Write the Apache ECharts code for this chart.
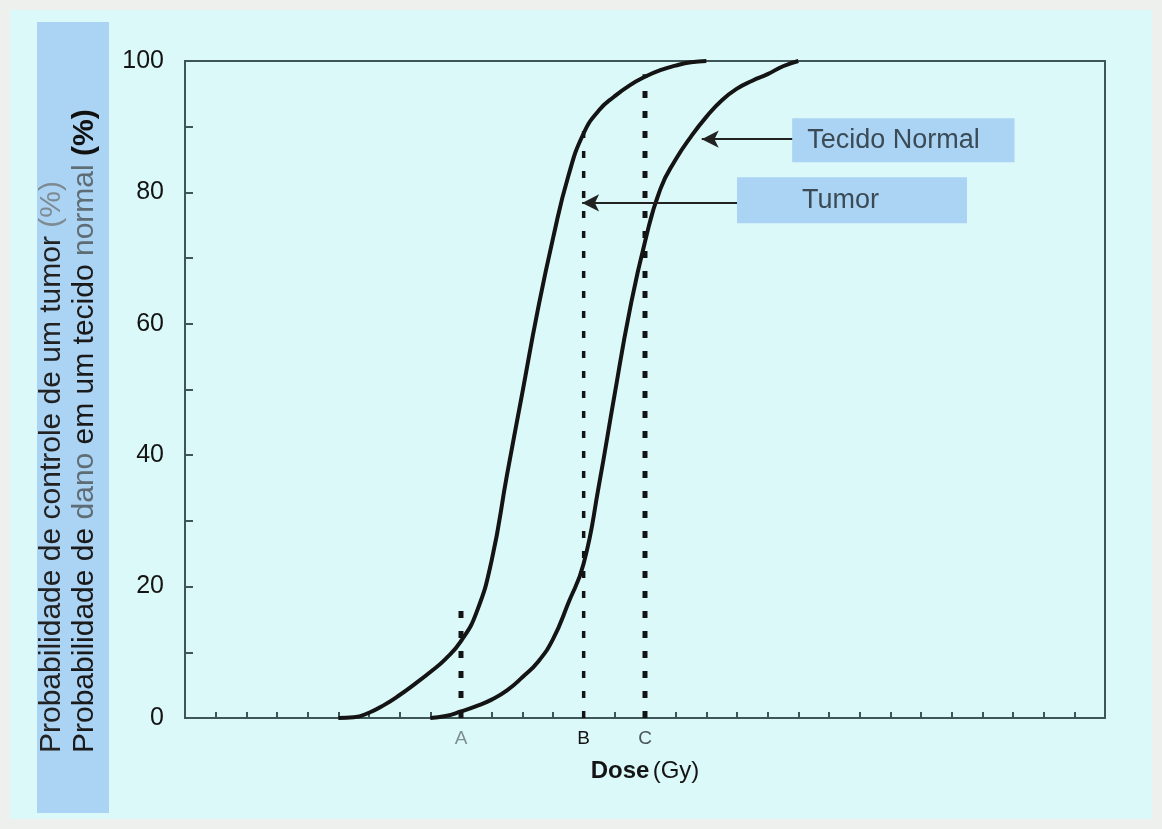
<!DOCTYPE html>
<html>
<head>
<meta charset="utf-8">
<script src="https://cdn.jsdelivr.net/npm/echarts@6/dist/echarts.min.js"></script>
<style>
  * { margin: 0; padding: 0; }
  body { background: #eef0ee; }
  #mychart { width: 1162px; height: 829px; }
</style>
</head>
<body>
<div id="mychart"></div>
<script>
// curves (dose in axis units 0..30, probability in %)
const tumorDose = [5, 5.5, 6, 6.5, 7, 7.5, 8, 8.5, 9, 9.5, 10, 10.5, 11, 11.5, 12, 12.5, 13, 13.5, 14, 14.5, 15, 15.5, 16, 16.5, 17];
const tumorProb = [0, 0.1, 0.8, 2.0, 3.5, 5.2, 7.0, 9.0, 11.7, 16, 24, 37, 49.5, 62, 73, 82.5, 89, 92.5, 94.6, 96.3, 97.6, 98.6, 99.3, 99.8, 100];
const normalDose = [8, 8.5, 9, 9.5, 10, 10.5, 11, 11.5, 12, 12.5, 13, 13.5, 14, 14.5, 15, 15.5, 16, 16.5, 17, 17.5, 18, 18.5, 19, 19.5, 20];
const normalProb = [0, 0.3, 1, 1.8, 2.8, 4.2, 6.2, 8.5, 12, 17.5, 23.5, 35.5, 49, 62, 72.5, 80.5, 85, 88.5, 91.5, 94, 95.8, 97, 98, 99.2, 100];

// dotted reference doses A, B, C
const markLabels = ['A', 'B', 'C'];
const markDose = [9, 13, 15];
const markTop = [18, 90, 98];

// annotation boxes and arrows (data coordinates)
const noteText = ['Tecido Normal', 'Tumor'];
const noteBoxX = [[19.8, 27.05], [18.0, 25.5]];
const noteBoxY = [[91.3, 84.6], [82.3, 75.3]];
const arrowTipX = [16.85, 12.95];
const arrowTailX = [19.8, 18.0];
const arrowY = [88.1, 78.4];

const yTicks = [0, 20, 40, 60, 80, 100];

const FONT = "'Liberation Sans', Arial, sans-serif";
const INK = '#141414';
const AXIS = '#3f5658';

function pairs(xs, ys) {
  return xs.map((x, i) => [x, ys[i]]);
}

var chart = echarts.init(document.getElementById('mychart'));

const dottedSeries = markDose.map((d, i) => ({
  type: 'line',
  data: [[d, 0], [d, markTop[i]]],
  showSymbol: false,
  silent: true,
  z: 3,
  lineStyle: { color: INK, width: i === 1 ? 3.5 : 5, type: [7, 13], cap: 'butt' }
}));

const option = {
  backgroundColor: '#dcf9fa',
  animation: false,
  textStyle: { fontFamily: FONT },
  grid: {
    left: 185, top: 61, right: 57, bottom: 111,
    show: true, borderColor: AXIS, borderWidth: 2, backgroundColor: 'transparent'
  },
  xAxis: {
    type: 'value',
    min: 0, max: 30, interval: 1,
    name: '{b|Dose} {n|(Gy)}',
    nameLocation: 'middle',
    nameGap: 41,
    nameTextStyle: {
      rich: {
        b: { fontSize: 24, fontWeight: 'bold', color: INK, fontFamily: FONT },
        n: { fontSize: 24, color: INK, fontFamily: FONT }
      }
    },
    axisLine: { lineStyle: { color: AXIS, width: 2 } },
    axisTick: { inside: true, length: 6, lineStyle: { color: AXIS, width: 2 } },
    splitLine: { show: false },
    axisLabel: {
      margin: 11,
      formatter: function (v) {
        const i = markDose.indexOf(v);
        return i < 0 ? '' : '{l' + i + '|' + markLabels[i] + '}';
      },
      rich: {
        l0: { fontSize: 19, color: '#7d8f92', fontFamily: FONT },
        l1: { fontSize: 19, color: INK, fontFamily: FONT },
        l2: { fontSize: 19, color: '#4a5558', fontFamily: FONT }
      }
    }
  },
  yAxis: {
    type: 'value',
    min: 0, max: 100, interval: 10,
    axisLine: { show: true, lineStyle: { color: AXIS, width: 2 } },
    axisTick: { show: true, inside: true, length: 8, lineStyle: { color: AXIS, width: 2 } },
    splitLine: { show: false },
    axisLabel: {
      margin: 21,
      fontSize: 25,
      color: INK,
      formatter: function (v) { return yTicks.indexOf(v) < 0 ? '' : String(v); }
    }
  },
  graphic: [
    {
      type: 'rect', silent: true,
      shape: { x: 0, y: 0, width: 1162, height: 829 },
      style: { fill: 'none', stroke: '#eef0ee', lineWidth: 20 }
    },
    {
      type: 'rect', silent: true,
      shape: { x: 37, y: 22, width: 72, height: 791 },
      style: { fill: '#abd3f4' }
    },
    {
      type: 'text', silent: true, x: 52, y: 753, rotation: Math.PI / 2,
      style: {
        text: '{d|Probabilidade de controle de um tumor} {g|(%)}',
        align: 'left', verticalAlign: 'middle', font: '30px ' + FONT,
        rich: {
          d: { fontSize: 30, fill: '#222', fontFamily: FONT },
          g: { fontSize: 30, fill: '#7d8a92', fontFamily: FONT }
        }
      }
    },
    {
      type: 'text', silent: true, x: 85, y: 753, rotation: Math.PI / 2,
      style: {
        text: '{d|Probabilidade de} {g|dano} {d|em um tecido} {g|normal} {b|(%)}',
        align: 'left', verticalAlign: 'middle', font: '30px ' + FONT,
        rich: {
          d: { fontSize: 30, fill: '#1a1a1a', fontFamily: FONT },
          g: { fontSize: 30, fill: '#5e6c74', fontFamily: FONT },
          b: { fontSize: 30, fill: '#111', fontWeight: 'bold', fontFamily: FONT }
        }
      }
    }
  ],
  series: [
    {
      name: 'Tumor',
      type: 'line',
      data: pairs(tumorDose, tumorProb),
      smooth: 0.5,
      showSymbol: false,
      z: 4,
      lineStyle: { color: INK, width: 4 },
      markLine: {
        silent: true,
        symbol: ['arrow', 'none'],
        symbolSize: [13, 17],
        label: { show: false },
        lineStyle: { color: '#222', width: 2, type: 'solid' },
        data: arrowTipX.map((x, i) => [
          { coord: [x, arrowY[i]] },
          { coord: [arrowTailX[i], arrowY[i]] }
        ])
      },
      markArea: {
        silent: true,
        itemStyle: { color: '#abd3f4' },
        label: { show: true, position: 'insideLeft', fontSize: 27, color: '#3b4b56', fontFamily: FONT },
        data: noteText.map((t, i) => [
          { name: t, coord: [noteBoxX[i][0], noteBoxY[i][0]], label: { distance: i === 0 ? 15 : 65 } },
          { coord: [noteBoxX[i][1], noteBoxY[i][1]] }
        ])
      }
    },
    {
      name: 'Tecido Normal',
      type: 'line',
      data: pairs(normalDose, normalProb),
      smooth: 0.5,
      showSymbol: false,
      z: 4,
      lineStyle: { color: INK, width: 4 }
    }
  ].concat(dottedSeries)
};

chart.setOption(option);
window.addEventListener('resize', function () {
  chart.resize();
});
</script>
</body>
</html>
